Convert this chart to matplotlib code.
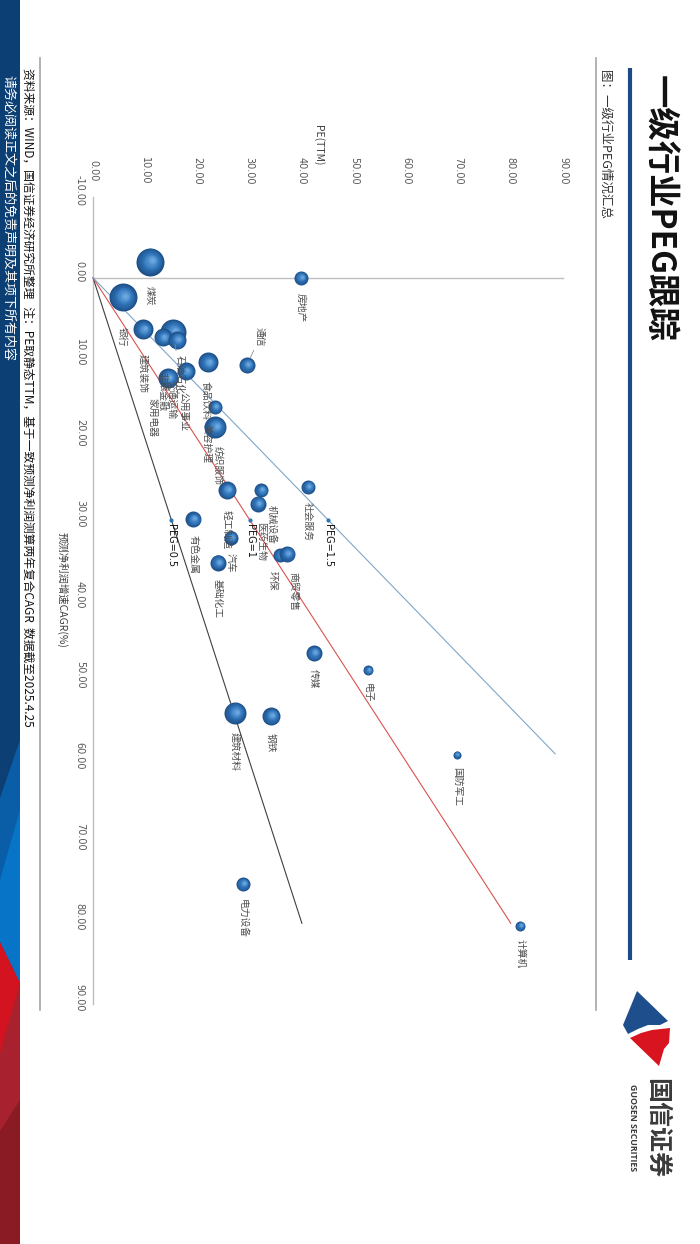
import matplotlib
matplotlib.use('Agg')
import matplotlib.pyplot as plt
import numpy as np
from matplotlib.patches import Polygon, Rectangle
from matplotlib.transforms import ScaledTranslation
from matplotlib.colors import to_rgb

plt.rcParams['font.family'] = ['Noto Sans CJK SC', 'DejaVu Sans']
plt.rcParams['axes.unicode_minus'] = False

# 数据 (PE(TTM), 预测净利润两年复合CAGR %, 气泡半径)
industries = ['房地产', '煤炭', '银行', '建筑装饰', '石油石化', '非银金融', '交通运输',
              '通信', '食品饮料', '公用事业', '家用电器', '美容护理', '纺织服饰',
              '轻工制造', '机械设备', '医药生物', '社会服务', '有色金属', '汽车',
              '基础化工', '环保', '商贸零售', '传媒', '电子', '建筑材料', '钢铁',
              '国防军工', '电力设备', '计算机']
pe = [39.8, 10.9, 5.7, 9.6, 15.3, 13.4, 16.1,
      29.5, 22.0, 17.8, 14.4, 23.4, 23.4,
      25.7, 32.2, 31.6, 41.2, 19.2, 26.4,
      23.9, 35.8, 37.2, 42.3, 52.7, 27.2, 34.1,
      69.7, 28.7, 81.8]
cagr = [0.0, -2.0, 2.4, 6.4, 6.7, 7.4, 7.7,
        10.8, 10.5, 11.6, 12.4, 16.0, 18.5,
        26.3, 26.3, 28.0, 25.9, 29.9, 32.2,
        35.3, 34.4, 34.2, 46.5, 48.6, 53.9, 54.3,
        59.1, 75.1, 80.3]
bubble = [7, 14, 14, 10, 13, 9, 9,
          8, 10, 9, 10, 7, 11,
          9, 7, 8, 7, 8, 7,
          8, 7, 8, 8, 5, 11, 9,
          4, 7, 5]

peg_values = [0.5, 1.0, 1.5]
peg_names = ['PEG=0.5', 'PEG=1', 'PEG=1.5']
peg_end_cagr = [80, 80, 59]
peg_label_cagr = 30

pe_ticks = list(range(0, 91, 10))
cagr_ticks = list(range(-10, 91, 10))

W, H = 700, 1244
fig = plt.figure(figsize=(7, 12.44), dpi=100)

# 背景装饰层（像素坐标）
deco = fig.add_axes([0, 0, 1, 1])
deco.set_xlim(0, W)
deco.set_ylim(H, 0)
deco.axis('off')

# 左侧色带
deco.add_patch(Rectangle((0, 0), 20, H, color='#0c3f73', lw=0))
deco.add_patch(Polygon([(0, 798), (20, 740), (20, 983), (0, 942)], color='#0a5ea8', lw=0))
deco.add_patch(Polygon([(0, 880), (20, 810), (20, 983), (0, 942)], color='#0874c8', lw=0))
deco.add_patch(Polygon([(0, 942), (20, 983), (20, H), (0, H)], color='#d3131f', lw=0))
deco.add_patch(Polygon([(0, 1053), (20, 983), (20, H), (0, H)], color='#a8212e', lw=0))
deco.add_patch(Polygon([(0, 1131), (20, 1100), (20, H), (0, H)], color='#8a1a23', lw=0))
deco.text(8, 75, '请务必阅读正文之后的免责声明及其项下所有内容', rotation=-90,
          ha='center', va='top', fontsize=9.4, color='white')

# 资料来源
deco.text(28, 68, '资料来源：WIND，国信证券经济研究所整理   注：PE取静态TTM，'
          '基于一致预测净利润测算两年复合CAGR  数据截至2025.4.25',
          rotation=-90, ha='center', va='top', fontsize=8.5, color='#111111')

# 边框线
deco.plot([40, 40], [58, 1010], color='#a6a6a6', lw=1.2)
deco.plot([596, 596], [58, 1010], color='#a6a6a6', lw=1.2)

# 标题
deco.text(605, 70, '图：一级行业PEG情况汇总', rotation=-90, ha='center', va='top',
          fontsize=9, color='#333333')
deco.plot([630, 630], [68, 960], color='#1b4a85', lw=3, solid_capstyle='butt')
deco.text(659, 75, '一级行业PEG跟踪', rotation=-90, ha='center', va='top',
          fontsize=24, fontweight='bold', color='#111111')

# logo
deco.add_patch(Polygon([(637, 991), (668, 1021), (660, 1025), (648, 1025), (638, 1029),
                        (628, 1034), (623, 1025)], color='#1f4e8c', lw=0))
deco.add_patch(Polygon([(630, 1038), (641, 1033), (652, 1030), (670, 1028), (669, 1043),
                        (664, 1049), (659, 1066)], color='#d7141f', lw=0))
deco.text(656, 1128, '国信证券', rotation=-90, ha='center', va='center',
          fontsize=18, fontweight='bold', color='#3a3a3a')
deco.text(632, 1128, 'GUOSEN SECURITIES', rotation=-90, ha='center', va='center',
          fontsize=6.3, fontweight='bold', color='#3a3a3a', family=['Open Sans', 'DejaVu Sans'])

# 轴标题
deco.text(318, 145, 'PE(TTM)', rotation=-90, ha='center', va='center',
          fontsize=7.5, color='#404040')
deco.text(62, 590, '预测净利润增速CAGR(%)', rotation=-90, ha='center', va='center',
          fontsize=7.5, color='#404040')

# 主图（旋转：横向为PE，纵向向下为CAGR）
ax = fig.add_axes([93 / W, (H - 1004) / H, 470 / W, 807 / H])
ax.set_xlim(0, 90)
ax.set_ylim(90, -10)
ax.axis('off')

ax.plot([0, 0], [-10, 90], color='#bfbfbf', lw=1, clip_on=False, zorder=1)
ax.plot([0, 90], [0, 0], color='#bfbfbf', lw=1, clip_on=False, zorder=1)

narrow = ['Liberation Sans Narrow', 'DejaVu Sans']
for p in pe_ticks:
    ax.text(p, 1.032, f'{p:.2f}', transform=ax.get_xaxis_transform(), rotation=-90,
            ha='center', va='center', fontsize=7, color='#595959', family=narrow)
for c in cagr_ticks:
    ax.text(-0.028, c - 0.75, f'{c:.2f}', transform=ax.get_yaxis_transform(), rotation=-90,
            ha='center', va='center', fontsize=7, color='#595959', family=narrow)

# PEG 参考线
peg_colors = ['#404040', '#d9534f', '#7fa7c9']
for v, name, end_c, col in zip(peg_values, peg_names, peg_end_cagr, peg_colors):
    cs = np.array([0, end_c])
    ax.plot(v * cs, cs, color=col, lw=0.8, zorder=2, clip_on=False)
    ax.scatter([v * peg_label_cagr], [peg_label_cagr], s=4, color='#2e75b6', zorder=4)
    ax.annotate(name, xy=(v * peg_label_cagr, peg_label_cagr), xytext=(0, -3),
                textcoords='offset points', rotation=-90, ha='center', va='top',
                fontsize=7, color='#111111', family=['DejaVu Sans'], zorder=20)

# 气泡（球体渐变）
c_edge = np.array(to_rgb('#1f5189'))
c_mid = np.array(to_rgb('#2f73b8'))
c_light = np.array(to_rgb('#6aa8e0'))
ux, uy = 0.55, 0.35
n_layers = 10
for i, (p, c, r) in enumerate(zip(pe, cagr, bubble)):
    for k in range(n_layers):
        t = k / (n_layers - 1)
        f = 1 - 0.85 * t
        if t < 0.45:
            col = c_edge + (c_mid - c_edge) * (t / 0.45)
        else:
            col = c_mid + (c_light - c_mid) * ((t - 0.45) / 0.55)
        shift = (1 - f) * r * 0.35
        tr = ax.transData + ScaledTranslation(shift * ux / 100, shift * uy / 100,
                                              fig.dpi_scale_trans)
        ax.scatter([p], [c], s=(2 * r * f * 0.72) ** 2, color=col, linewidths=0,
                   transform=tr, clip_on=False, zorder=3 + i * 0.01 + k * 0.0005)

# 标签位置（像素偏移：向右, 向下）
label_offsets = {
    '通信': (13, -38), '家用电器': (-16, 20), '石油石化': (7, 23), '非银金融': (0, 35),
    '交通运输': (-5, 40), '食品饮料': (-2, 19), '公用事业': (-2, 21), '建筑装饰': (0, 25),
    '银行': (-1, 30), '煤炭': (0, 24), '轻工制造': (0, 20), '医药生物': (3, 18),
    '机械设备': (11, 15), '商贸零售': (6, 18), '环保': (-7, 16), '美容护理': (-9, 17),
    '纺织服饰': (3, 19),
}
leaders = {'通信', '家用电器', '石油石化'}
for name, p, c, r in zip(industries, pe, cagr, bubble):
    dx, dy = label_offsets.get(name, (0, r + 8))
    arrow = None
    if name in leaders:
        arrow = dict(arrowstyle='-', color='#8c8c8c', lw=0.6, shrinkA=1, shrinkB=r * 0.72)
    ax.annotate(name, xy=(p, c), xytext=(dx * 0.72, -dy * 0.72), textcoords='offset points',
                rotation=-90, ha='center', va='top', fontsize=7, color='#4d4d4d',
                zorder=20, annotation_clip=False, arrowprops=arrow)

fig.savefig('out.png', dpi=100, facecolor='white')
